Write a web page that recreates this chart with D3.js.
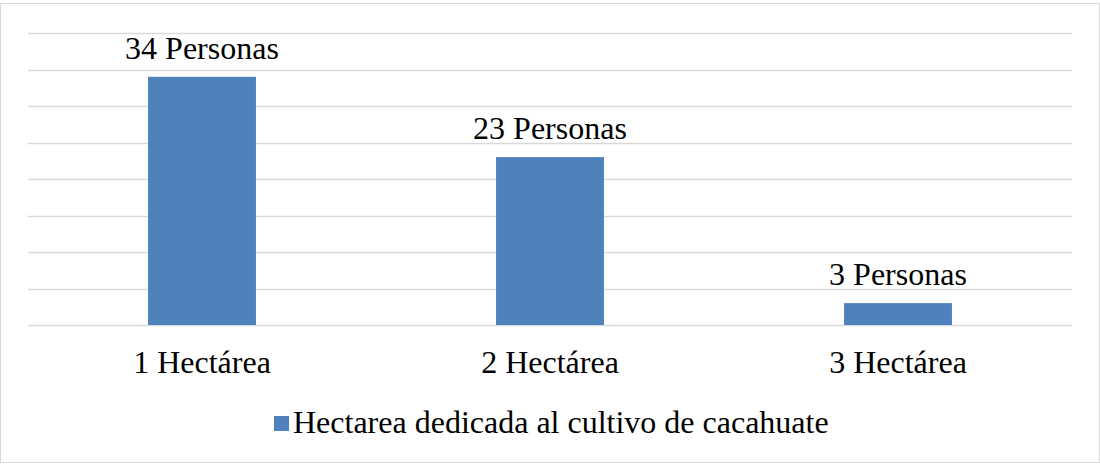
<!DOCTYPE html>
<html>
<head>
<meta charset="utf-8">
<script src="https://cdn.jsdelivr.net/npm/d3@7"></script>
<style>
  body { margin: 0; background: #fff; }
  svg { display: block; font-family: "Liberation Serif", "Times New Roman", serif; }
</style>
</head>
<body>
<svg id="chart" width="1100" height="464"></svg>
<script>
var categories = ["1 Hectárea", "2 Hectárea", "3 Hectárea"];
var values = [34, 23, 3];
var valueLabels = ["34 Personas", "23 Personas", "3 Personas"];
var seriesName = "Hectarea dedicada al cultivo de cacahuate";
var yTicks = [0, 5, 10, 15, 20, 25, 30, 35, 40];

var svg = d3.select("#chart");
var W = 1100, H = 464;

// outer frame
svg.append("rect")
  .attr("x", 0.5).attr("y", 3.5)
  .attr("width", W - 1).attr("height", H - 5)
  .attr("fill", "none")
  .attr("stroke", "#d9d9d9");

var plotLeft = 28, plotRight = 1072, plotTop = 33, plotBottom = 325;

var x = d3.scaleBand().domain(categories).range([plotLeft, plotRight]).paddingInner(0.69).paddingOuter(0.345);
var y = d3.scaleLinear().domain([0, 40]).range([plotBottom, plotTop]);

// gridlines
svg.append("g").selectAll("line")
  .data(yTicks)
  .enter().append("line")
  .attr("x1", plotLeft).attr("x2", plotRight)
  .attr("y1", function (d) { return Math.round(y(d)) + 0.5; })
  .attr("y2", function (d) { return Math.round(y(d)) + 0.5; })
  .attr("stroke", "#d9d9d9")
  .attr("stroke-width", 1.5);

// bars
svg.append("g").selectAll("rect")
  .data(values)
  .enter().append("rect")
  .attr("x", function (d, i) { return x(categories[i]); })
  .attr("y", function (d) { return y(d); })
  .attr("width", x.bandwidth())
  .attr("height", function (d) { return y(0) - y(d); })
  .attr("fill", "#4f81bd");

// value labels
svg.append("g").selectAll("text")
  .data(values)
  .enter().append("text")
  .attr("x", function (d, i) { return x(categories[i]) + x.bandwidth() / 2; })
  .attr("y", function (d) { return y(d) - 18; })
  .attr("text-anchor", "middle")
  .attr("font-size", 32)
  .attr("fill", "#000")
  .text(function (d, i) { return valueLabels[i]; });

// category axis
var xAxis = svg.append("g")
  .attr("transform", "translate(0," + plotBottom + ")")
  .call(d3.axisBottom(x).tickSize(0).tickPadding(0));
xAxis.select(".domain").remove();
xAxis.selectAll("text")
  .attr("font-size", 32)
  .attr("font-family", "Liberation Serif, serif")
  .attr("fill", "#000")
  .attr("y", 48)
  .attr("dy", null);

// legend
var legend = svg.append("g");
legend.append("rect")
  .attr("x", 274).attr("y", 416)
  .attr("width", 15).attr("height", 15)
  .attr("fill", "#4f81bd");
legend.append("text")
  .attr("x", 293).attr("y", 433)
  .attr("font-size", 32)
  .attr("fill", "#000")
  .text(seriesName);
</script>
</body>
</html>
